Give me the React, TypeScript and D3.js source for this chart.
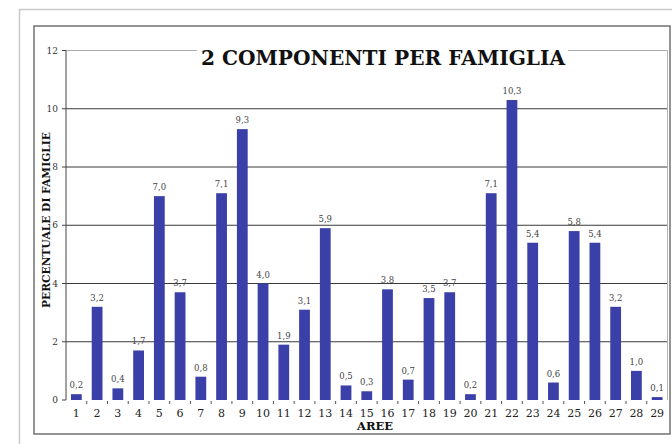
import React from 'react';
import * as d3 from 'd3';

const aree = ['1','2','3','4','5','6','7','8','9','10','11','12','13','14','15','16','17','18','19','20','21','22','23','24','25','26','27','28','29'];
const percentuali = [0.2,3.2,0.4,1.7,7.0,3.7,0.8,7.1,9.3,4.0,1.9,3.1,5.9,0.5,0.3,3.8,0.7,3.5,3.7,0.2,7.1,10.3,5.4,0.6,5.8,5.4,3.2,1.0,0.1];
const yTicks = [0,2,4,6,8,10,12];
const titolo = '2 COMPONENTI PER FAMIGLIA';
const asseX = 'AREE';
const asseY = 'PERCENTUALE DI FAMIGLIE';

const W = 672, H = 444;
const left = 66, right = 667.5, top = 50.5, bottom = 400;
const serif = "'DejaVu Serif', serif";

export default function App() {
  const x = d3.scaleBand<string>().domain(aree).range([left, right]).paddingInner(0.48).paddingOuter(0.24);
  const y = d3.scaleLinear().domain([0, 12]).range([bottom, top]);
  const fmt = (v: number) => v.toFixed(1).replace('.', ',');
  const step = x.step();

  return (
    <svg width={W} height={H} style={{position: 'absolute', left: 0, top: 0, background: '#fff'}}>
      {/* cornici */}
      <line x1={19} y1={9.5} x2={W} y2={9.5} stroke="#c8c8c8" strokeWidth={1.5}/>
      <line x1={19.5} y1={9} x2={19.5} y2={H} stroke="#c8c8c8" strokeWidth={1.5}/>
      <rect x={34} y={26} width={636} height={408} fill="none" stroke="#7a7a7a" strokeWidth={1.6}/>

      {/* griglia */}
      {yTicks.filter(t => t > 0 && t < 12).map(t => (
        <line key={t} x1={left} x2={right} y1={y(t)} y2={y(t)} stroke="#3a3a3a" strokeWidth={1}/>
      ))}
      <line x1={left} x2={right} y1={y(12)} y2={y(12)} stroke="#aaaaaa" strokeWidth={1}/>
      <line x1={right} x2={right} y1={y(12)} y2={bottom} stroke="#b5b5b5" strokeWidth={1}/>

      {/* asse y */}
      <line x1={left} x2={left} y1={y(12)} y2={bottom} stroke="#444" strokeWidth={1}/>
      {yTicks.map(t => (
        <g key={t}>
          <line x1={left - 4} x2={left} y1={y(t)} y2={y(t)} stroke="#444"/>
          <text x={left - 8} y={y(t)} dy="0.35em" textAnchor="end" fontFamily={serif} fontSize={9} fill="#333">{t}</text>
        </g>
      ))}

      {/* barre */}
      {percentuali.map((v, i) => (
        <g key={aree[i]}>
          <rect x={x(aree[i])} y={y(v)} width={x.bandwidth()} height={bottom - y(v)} fill="#3b40a8"/>
          <text x={(x(aree[i]) as number) + x.bandwidth() / 2} y={y(v) - 6} textAnchor="middle" fontFamily={serif} fontSize={8.5} fill="#444">{fmt(v)}</text>
          <text x={(x(aree[i]) as number) + x.bandwidth() / 2} y={413} dy="0.35em" textAnchor="middle" fontFamily={serif} fontSize={11} fill="#222">{aree[i]}</text>
        </g>
      ))}
      {aree.slice(1).map((a, i) => (
        <line key={'t' + a} x1={left + step * (i + 1)} x2={left + step * (i + 1)} y1={bottom + 1} y2={bottom + 4} stroke="#555"/>
      ))}

      {/* titoli */}
      <rect x={197} y={40} width={371} height={24} fill="#fff"/>
      <text x={383} y={65} textAnchor="middle" fontFamily={serif} fontWeight="bold" fontSize={20} fill="#111" textLength={364} lengthAdjust="spacingAndGlyphs">{titolo}</text>
      <text x={375} y={426} dy="0.35em" textAnchor="middle" fontFamily={serif} fontWeight="bold" fontSize={11.5} fill="#111">{asseX}</text>
      <text transform={`translate(46,220) rotate(-90)`} dy="0.35em" textAnchor="middle" fontFamily={serif} fontWeight="bold" fontSize={11} fill="#111" textLength={176} lengthAdjust="spacingAndGlyphs">{asseY}</text>
    </svg>
  );
}
